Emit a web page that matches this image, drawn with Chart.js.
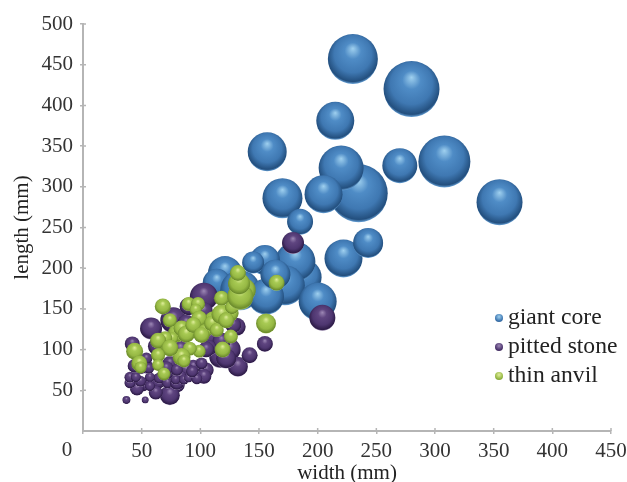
<!DOCTYPE html>
<html>
<head>
<meta charset="utf-8">
<script src="https://cdn.jsdelivr.net/npm/chart.js@4"></script>
<style>
  body { margin: 0; background: #fff; }
  #wrap { position: relative; width: 627px; height: 482px; }
  #legend { position: absolute; left: 495px; top: 302px; font: 23.6px "Liberation Serif", serif; color: #222; }
  #legend div { height: 29.2px; line-height: 29px; white-space: nowrap; }
  #legend i { display: inline-block; width: 8px; height: 8px; border-radius: 50%; margin-right: 5px; vertical-align: 2px; }
</style>
</head>
<body>
<div id="wrap">
  <canvas id="graphic" width="627" height="482"></canvas>
  <div id="legend"></div>
</div>
<script>
const seriesNames = ["giant core", "pitted stone", "thin anvil"];
const xTicks = [0, 50, 100, 150, 200, 250, 300, 350, 400, 450];
const yTicks = [50, 100, 150, 200, 250, 300, 350, 400, 450, 500];

// giant core
const coreWidth = [235, 230, 280, 215, 157, 220, 205, 170, 270, 308, 355, 185, 222, 243, 188, 181, 155, 172, 121, 114, 134, 156, 145, 164, 200];
const coreLength = [292, 457, 420, 381, 343, 323, 291, 286, 326, 331, 281, 257, 212, 231, 189, 208, 210, 179, 194, 182, 173, 165, 207, 192, 159];
const coreSize = [29, 25, 28, 19, 19.5, 22.5, 19, 20, 17.5, 26, 23, 13, 19, 15, 18, 20, 15, 20, 17, 14, 20, 18, 11, 15, 19];

// pitted stone, big ones first so the small ones sit on top
const stoneWidth = [179, 204, 103, 77, 58, 108, 125, 117, 132, 122, 68, 83, 88, 131, 90, 103, 142, 155, 42, 118, 107, 63, 128, 139, 105, 105, 74, 49, 54, 94, 64, 51, 43, 80, 88, 103, 71, 83, 37, 53, 74, 62, 46, 40, 40, 49, 45, 57, 57, 65, 72, 80, 79, 86, 90, 97, 93, 101, 71, 80, 54, 44, 56, 85];
const stoneLength = [231, 139, 165, 136, 126, 116, 100, 91, 79, 89, 108, 100, 132, 128, 153, 147, 93, 107, 107, 110, 102, 104, 130, 169, 100, 75, 83, 79, 79, 79, 61, 57, 65, 57, 75, 67, 71, 67, 38, 38, 44, 47, 52, 59, 66, 61, 66, 66, 55, 65, 59, 59, 63, 63, 65, 64, 73, 83, 77, 75, 89, 80, 77, 87];
const stoneSize = [11, 13, 14, 13, 11, 11, 11, 11, 10, 10, 11, 10, 9, 9, 9, 9, 8, 8, 7.5, 9, 8, 9, 8, 7, 8, 7.5, 7.5, 7.5, 7, 7, 7.5, 7, 6.5, 8, 7, 7.5, 7, 6, 4, 3.5, 10, 7, 7, 5.5, 5.5, 5.5, 5, 5, 5, 5.5, 5.5, 7, 5, 5, 4.5, 5.5, 6, 6, 7, 6, 6, 7, 5.5, 6];

// thin anvil
const anvilWidth = [80, 97, 125, 111, 71, 137, 68, 74, 90, 98, 96, 99, 84, 88, 94, 104, 101, 110, 114, 118, 122, 127, 132, 118, 134, 133, 132, 165, 156, 126, 119, 99, 91, 84, 86, 76, 70, 64, 74, 64, 64, 69, 44, 48, 49];
const anvilLength = [120, 124, 145, 136, 106, 173, 153, 136, 156, 156, 149, 138, 126, 119, 130, 123, 118, 132, 124, 143, 136, 152, 159, 163, 165, 181, 194, 182, 132, 116, 100, 98, 101, 91, 86, 114, 114, 111, 102, 93, 81, 70, 98, 83, 78];
const anvilSize = [9, 8, 9, 9, 9, 12, 8, 7, 7, 7, 6, 8, 8, 8.5, 8, 7, 8, 8, 7, 10, 8, 7, 8, 7.5, 13, 11, 8, 8, 10, 7, 8, 6.5, 7, 9, 6.5, 6, 7, 8, 8.5, 7, 6, 6.5, 8.5, 8, 6];

const shades = [
  ["#9fd0ef", "#4f8cc6", "#3f78b2", "#234f7e", "#6ba6dc"],
  ["#9d88b5", "#5f4580", "#4e3670", "#2e1c48", "#a595b8"],
  ["#e0ee9c", "#a8ca54", "#96b844", "#6c8c2c", "#b0ce64"]
];

function points(xs, ys, rs) {
  return xs.map((x, i) => ({ x: x, y: ys[i], r: rs[i] }));
}

// sphere look: light spot near the top, dark lower edge, thin lit rim
function sphere(colors) {
  return function (ctx) {
    const raw = ctx.raw;
    const chart = ctx.chart;
    if (!raw || !chart.scales.x) return colors[1];
    const cx = chart.scales.x.getPixelForValue(raw.x);
    const cy = chart.scales.y.getPixelForValue(raw.y);
    const r = raw.r;
    if (!isFinite(cx) || !isFinite(cy)) return colors[1];
    const g = chart.ctx.createRadialGradient(cx, cy - r * 0.42, 0, cx, cy - r * 0.1, r * 1.1);
    g.addColorStop(0, colors[0]);
    g.addColorStop(0.3, colors[1]);
    g.addColorStop(0.68, colors[2]);
    g.addColorStop(0.93, colors[3]);
    g.addColorStop(1, colors[4]);
    return g;
  };
}

// "0" sits out to the left of the axis, and ticks cross the axis line
const axisExtras = {
  id: "axisExtras",
  afterDraw(chart) {
    const c = chart.ctx;
    const sx = chart.scales.x;
    const sy = chart.scales.y;
    c.save();
    c.fillStyle = "#333";
    c.font = '21px "Liberation Serif"';
    c.textAlign = "center";
    c.textBaseline = "middle";
    c.fillText("0", sx.getPixelForValue(0) - 16, 450);
    c.strokeStyle = "#b5b5b5";
    c.lineWidth = 1.5;
    c.beginPath();
    xTicks.forEach(v => {
      c.moveTo(sx.getPixelForValue(v), sy.bottom);
      c.lineTo(sx.getPixelForValue(v), sy.bottom - 3);
    });
    yTicks.forEach(v => {
      c.moveTo(sx.left, sy.getPixelForValue(v));
      c.lineTo(sx.left + 3, sy.getPixelForValue(v));
    });
    c.stroke();
    c.restore();
  }
};

const sets = [
  points(coreWidth, coreLength, coreSize),
  points(stoneWidth, stoneLength, stoneSize),
  points(anvilWidth, anvilLength, anvilSize)
];

new Chart(document.getElementById("graphic"), {
  type: "bubble",
  data: {
    datasets: sets.map((data, i) => ({
      label: seriesNames[i],
      data: data,
      order: 3 - i,
      borderWidth: 0,
      backgroundColor: sphere(shades[i])
    }))
  },
  options: {
    responsive: false,
    animation: false,
    layout: { autoPadding: false, padding: { top: 24, right: 16, left: 0, bottom: 0 } },
    plugins: { legend: { display: false }, tooltip: { enabled: false } },
    scales: {
      x: {
        type: "linear",
        min: 0,
        max: 450,
        afterFit(s) {
          s.height = 51;
          s.paddingLeft = 0;
          s.paddingRight = 0;
        },
        afterBuildTicks(s) { s.ticks = xTicks.map(v => ({ value: v })); },
        border: { color: "#b5b5b5", width: 2 },
        grid: { drawOnChartArea: false, color: "#b5b5b5", tickLength: 3, lineWidth: 1.5 },
        ticks: {
          color: "#333",
          font: { family: "Liberation Serif", size: 21 },
          maxRotation: 0,
          autoSkip: false,
          padding: 5,
          callback: v => (v === 0 ? "" : v)
        },
        title: {
          display: true,
          text: "width (mm)",
          color: "#222",
          font: { family: "Liberation Serif", size: 21 },
          padding: { top: 0, bottom: -4 }
        }
      },
      y: {
        type: "linear",
        min: 0,
        max: 500,
        afterFit(s) { s.width = 83; },
        afterBuildTicks(s) { s.ticks = yTicks.map(v => ({ value: v })); },
        border: { color: "#b5b5b5", width: 2 },
        grid: { drawOnChartArea: false, color: "#b5b5b5", tickLength: 3, lineWidth: 1.5 },
        ticks: {
          color: "#333",
          font: { family: "Liberation Serif", size: 21 },
          autoSkip: false,
          padding: 7
        },
        title: {
          display: true,
          text: "length (mm)",
          color: "#222",
          font: { family: "Liberation Serif", size: 21 },
          padding: { top: 10, bottom: 0 }
        }
      }
    }
  },
  plugins: [axisExtras]
});

// legend sits inside the plot, so it is plain html over the canvas
document.getElementById("legend").innerHTML = seriesNames.map((name, i) =>
  '<div><i style="background:radial-gradient(circle at 50% 35%,' + shades[i][0] + ',' + shades[i][2] + ' 60%,' + shades[i][3] + ')"></i>' + name + "</div>"
).join("");
</script>
</body>
</html>
